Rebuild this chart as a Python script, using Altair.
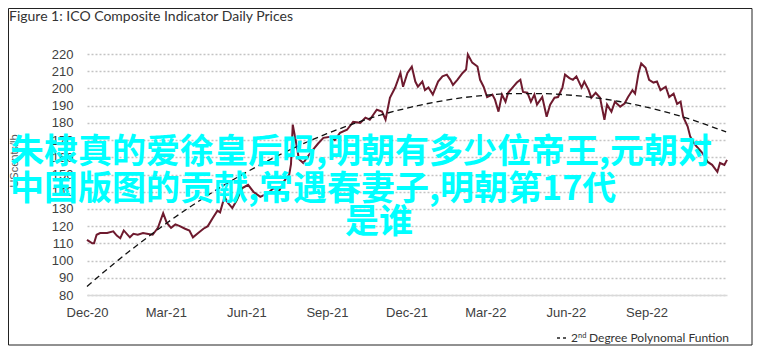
import altair as alt
import pandas as pd

# ---------------- data ----------------
price_dates = [
    "2020-12-01", "2020-12-07", "2020-12-09", "2020-12-12", "2020-12-16", "2020-12-24", "2020-12-31",
    "2021-01-04", "2021-01-08", "2021-01-12", "2021-01-19", "2021-01-23", "2021-01-28",
    "2021-02-03", "2021-02-09", "2021-02-14", "2021-02-20", "2021-02-26",
    "2021-03-02", "2021-03-07", "2021-03-12", "2021-03-17", "2021-03-23", "2021-03-28",
    "2021-04-01", "2021-04-07", "2021-04-13", "2021-04-18", "2021-04-24", "2021-04-29",
    "2021-05-02", "2021-05-07", "2021-05-11", "2021-05-16", "2021-05-21", "2021-05-27",
    "2021-06-03", "2021-06-09", "2021-06-17", "2021-06-25",
    "2021-07-02", "2021-07-08", "2021-07-14", "2021-07-20", "2021-07-22", "2021-07-24", "2021-07-28", "2021-07-31",
    "2021-08-05", "2021-08-11", "2021-08-16", "2021-08-22", "2021-08-28",
    "2021-09-05", "2021-09-10", "2021-09-16", "2021-09-24",
    "2021-10-01", "2021-10-09", "2021-10-15", "2021-10-20", "2021-10-28",
    "2021-11-03", "2021-11-07", "2021-11-12", "2021-11-18", "2021-11-24", "2021-11-27",
    "2021-12-02", "2021-12-07", "2021-12-11", "2021-12-14", "2021-12-19", "2021-12-22", "2021-12-26", "2021-12-31",
    "2022-01-06", "2022-01-11", "2022-01-16", "2022-01-20", "2022-01-23", "2022-01-28",
    "2022-02-03", "2022-02-07", "2022-02-09", "2022-02-14", "2022-02-20", "2022-02-23", "2022-02-27",
    "2022-03-03", "2022-03-09", "2022-03-12", "2022-03-16", "2022-03-20", "2022-03-24", "2022-03-27",
    "2022-04-02", "2022-04-06", "2022-04-10", "2022-04-13", "2022-04-18", "2022-04-22", "2022-04-26", "2022-04-29",
    "2022-05-05", "2022-05-10", "2022-05-14", "2022-05-19", "2022-05-23", "2022-05-28", "2022-05-31",
    "2022-06-05", "2022-06-09", "2022-06-13", "2022-06-19", "2022-06-22", "2022-06-27", "2022-06-30",
    "2022-07-05", "2022-07-10", "2022-07-15", "2022-07-18", "2022-07-23", "2022-07-27",
    "2022-08-02", "2022-08-07", "2022-08-11", "2022-08-16", "2022-08-19", "2022-08-23", "2022-08-26", "2022-08-31",
    "2022-09-04", "2022-09-09", "2022-09-13", "2022-09-17", "2022-09-23", "2022-09-27",
    "2022-10-02", "2022-10-06", "2022-10-10", "2022-10-13", "2022-10-18", "2022-10-21", "2022-10-27",
    "2022-11-04", "2022-11-10", "2022-11-15", "2022-11-21", "2022-11-24", "2022-11-29", "2022-12-02",
]
price_values = [
    112, 110, 110, 115, 116, 116, 117,
    114.5, 113, 117.5, 113.5, 115.5, 115,
    116, 115.5, 115, 119, 127.5,
    122, 119, 121, 120, 118.5, 117.5,
    113.5, 116, 118.5, 120, 125, 129,
    128, 137, 133.5, 130.5, 135, 142,
    144, 140, 137, 139,
    142, 140, 146, 150, 156, 179, 168, 159,
    156.7, 161, 164.3, 168, 171.3,
    171.9, 170, 174.2, 176,
    180.6, 180, 183, 181.8, 187.6,
    186.5, 181.8, 194.6, 200.5, 209, 201,
    209, 212.7, 204, 201, 204, 199, 200.5, 196.4,
    204, 207, 208, 205, 202, 205,
    209, 211, 219.7, 215, 212.7, 205, 201,
    195, 196.4, 193.5, 186.5, 196.4, 192.3, 197.5,
    201, 203.4, 205, 198, 197.5, 192.3, 196.4, 190.6,
    195, 183.5, 190.6, 194.6, 195, 200.5, 208,
    206, 205, 207, 200.5, 204, 199, 194.6,
    197.5, 194.6, 181.8, 190.6, 186.5, 192.3,
    189.4, 191.2, 195, 199, 197, 209, 214.5, 212,
    205, 203.4, 204, 199, 201, 195,
    197, 191, 192.3, 183.5, 178, 172, 167,
    162.5, 157.3, 155.6, 151.5, 156.7, 155.6, 158.5,
]

fit_dates = [
    "2020-12-01", "2021-01-01", "2021-02-01", "2021-03-01", "2021-04-01", "2021-05-01",
    "2021-06-01", "2021-07-01", "2021-08-01", "2021-09-01", "2021-10-01", "2021-11-01",
    "2021-12-01", "2022-01-01", "2022-02-01", "2022-03-01", "2022-04-01", "2022-05-01",
    "2022-06-01", "2022-07-01", "2022-08-01", "2022-09-01", "2022-10-01", "2022-11-01",
    "2022-12-01",
]
fit_values = [
    85.0, 98.3, 110.8, 121.4, 132.3, 142.1,
    151.3, 159.4, 167.0, 173.7, 179.4, 184.5,
    188.5, 191.9, 194.5, 196.0, 197.0, 197.0,
    196.3, 194.8, 192.4, 189.1, 185.2, 180.2,
    174.7,
]

x_tick_dates = [(2020, 12), (2021, 3), (2021, 6), (2021, 9), (2021, 12),
                (2022, 3), (2022, 6), (2022, 9)]
y_ticks = [80, 90, 100, 110, 120, 130, 140, 150, 160, 170, 180, 190, 200, 210, 220]

title_text = "Figure 1: ICO Composite Indicator Daily Prices"
y_title_text = "UScents/lb"
legend_parts = ["2", "nd", "Degree Polynomal Funtion"]
overlay_lines = [
    "朱棣真的爱徐皇后吗,明朝有多少位帝王,元朝对",
    "中国版图的贡献,常遇春妻子,明朝第17代",
    "是谁",
]

# ---------------- chart ----------------
AXF = "Liberation Sans"
CJK = "Noto Sans CJK SC"

prices = pd.DataFrame({"date": price_dates, "value": price_values})
fit = pd.DataFrame({"date": fit_dates, "value": fit_values})

x_domain = [alt.DateTime(year=2020, month=12, date=1, utc=True),
            alt.DateTime(year=2022, month=12, date=2, utc=True)]
x_values = [alt.DateTime(year=y, month=m, date=1, utc=True) for y, m in x_tick_dates]

x_enc = alt.X(
    "date:T",
    scale=alt.Scale(type="utc", domain=x_domain),
    axis=alt.Axis(
        values=x_values, labelExpr="utcFormat(datum.value, '%b-%y')", title=None,
        labelFont=AXF, labelFontSize=13, labelColor="#404040",
        labelPadding=11, ticks=False, tickSize=0, grid=False, labelFlush=False,
        domainColor="#d9d9d9", domainWidth=1.5, labelAngle=0,
    ),
)
y_enc = alt.Y(
    "value:Q",
    scale=alt.Scale(domain=[80, 220], nice=False, zero=False),
    axis=alt.Axis(
        values=y_ticks, title=None, labelFont=AXF, labelFontSize=13,
        labelColor="#404040", labelPadding=14, ticks=False, tickSize=0,
        domain=False, grid=True, gridColor="#c4c4c4", gridDash=[2, 2],
        gridWidth=1.3,
    ),
)

price_line = alt.Chart(prices).mark_line(
    color="#6E1A2E", strokeWidth=2, interpolate="linear"
).encode(x=x_enc, y=y_enc)

fit_line = alt.Chart(fit).mark_line(
    color="#111111", strokeDash=[6, 4], strokeWidth=1.3, interpolate="monotone"
).encode(x=x_enc, y=y_enc)

one = alt.Data(values=[{"a": 1}])


def label(txt, x, y, **kw):
    return alt.Chart(one).mark_text(text=txt, **kw).encode(
        x=alt.value(x), y=alt.value(y)
    )


frame = alt.Chart(one).mark_rect(
    filled=False, stroke="#222222", strokeWidth=1
).encode(x=alt.value(-78.5), x2=alt.value(665), y=alt.value(-45.5), y2=alt.value(291))

title = label(title_text, -78, -33, align="left", baseline="alphabetic",
              font="Lato", fontSize=14, color="#333333")

y_title = label(y_title_text, -72, 107, align="center", baseline="middle",
                angle=270, font=AXF, fontSize=11, color="#595959")

legend_dash = alt.Chart(one).mark_rule(
    color="#222222", strokeDash=[3, 3], strokeWidth=1.5
).encode(x=alt.value(470), x2=alt.value(480), y=alt.value(284), y2=alt.value(284))
leg1 = label(legend_parts[0], 484, 288, align="left", baseline="alphabetic",
             font="Lato", fontSize=12, color="#333333")
leg2 = label(legend_parts[1], 491, 284, align="left", baseline="alphabetic",
             font="Lato", fontSize=7.5, color="#333333")
leg3 = label(legend_parts[2], 502, 288, align="left", baseline="alphabetic",
             font="Lato", fontSize=12, color="#333333")

ov_kw = dict(align="left", baseline="alphabetic", font=CJK, fontSize=34,
             fontWeight="bold", color="#00FFFF")
ov1 = label(overlay_lines[0], -77, 109, **ov_kw)
ov2 = label(overlay_lines[1], -77, 146, **ov_kw)
ov3 = label(overlay_lines[2], 258, 179, **ov_kw)

chart = alt.layer(
    price_line, fit_line, frame, title, y_title, legend_dash, leg1, leg2, leg3,
    ov1, ov2, ov3,
).properties(
    width=640, height=241,
    padding={"left": 79, "top": 46, "right": 27, "bottom": 53},
    autosize=alt.AutoSizeParams(type="none"),
    background="white",
).configure_view(strokeWidth=0)

chart.save("out.html", embed_options={"renderer": "svg", "actions": False})
